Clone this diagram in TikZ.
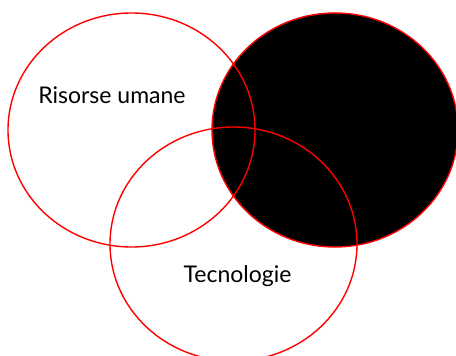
\documentclass[tikz,border=0pt]{standalone}
\usepackage{fontspec}
\setmainfont{Lato}
\begin{document}
\begin{tikzpicture}[x=1pt,y=-1pt,
  ring/.style={draw=red,line width=1.4pt},
  lbl/.style={font=\fontsize{23}{25}\selectfont,text=black,inner sep=0pt}]
\useasboundingbox (0,0) rectangle (456,356);
\clip (0,0) rectangle (456,356);
\fill[white] (0,0) rectangle (456,356);
\fill[black] (335,130) ellipse [x radius=123, y radius=117];
\draw[ring] (335,130) ellipse [x radius=123, y radius=117];
\draw[ring] (131.5,130) ellipse [x radius=123.5, y radius=117];
\draw[ring] (233.5,244) ellipse [x radius=123.5, y radius=117];
\node[lbl,anchor=base] (ru) at (112,103) {Risorse umane};
\node[lbl,anchor=base] (tec) at (237.5,282) {Tecnologie};
\end{tikzpicture}
\end{document}
